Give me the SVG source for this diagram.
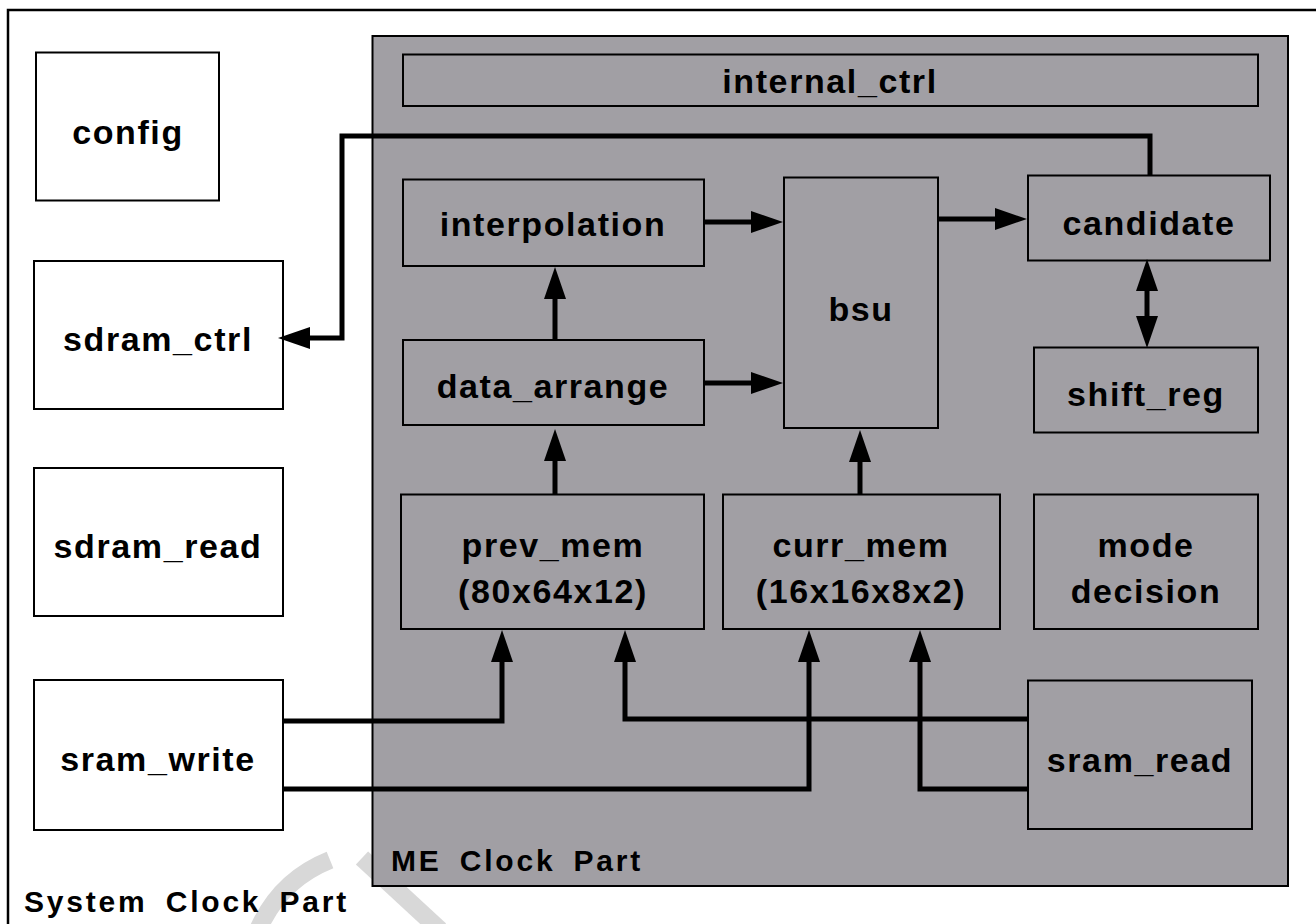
<svg xmlns="http://www.w3.org/2000/svg" width="1316" height="924" viewBox="0 0 1316 924">
<style>
.box{fill:#ffffff;stroke:#000;stroke-width:2}
.gbox{fill:#a19fa4;stroke:#000;stroke-width:2}
.lbl{font-family:"Liberation Sans",Arial,sans-serif;font-weight:bold;font-size:34px;letter-spacing:1.6px;text-anchor:middle;fill:#000}
.part{font-family:"Liberation Sans",Arial,sans-serif;font-weight:bold;font-size:30px;letter-spacing:2.8px;word-spacing:7px;fill:#000}
.wire{fill:none;stroke:#000;stroke-width:5;stroke-linejoin:miter}
</style>
<defs>
<marker id="ah" markerUnits="userSpaceOnUse" markerWidth="34" markerHeight="24" refX="0" refY="11" orient="auto-start-reverse" viewBox="0 0 34 24" overflow="visible">
<path d="M0,0 L32,11 L0,22 z" fill="#000"/>
</marker>
</defs>
<rect x="0" y="0" width="1316" height="924" fill="#ffffff"/>
<!-- watermark -->
<g fill="none" stroke="#d4d4d4" stroke-width="18" opacity="0.9">
<path d="M258,930 Q280,880 330,860"/>
<path d="M362,858 L440,930"/>
</g>
<path d="M1320,10 H8 V930" fill="none" stroke="#000" stroke-width="2.5"/>
<g id="me_clock_part">
<rect class="gbox" x="372.5" y="36" width="915.5" height="850"/>
<text class="part" x="391" y="871">ME Clock Part</text>
</g>
<text class="part" x="24" y="912">System Clock Part</text>
<g id="config"><rect class="box" x="36" y="52.5" width="183" height="148"/><text class="lbl" x="128" y="144">config</text></g>
<g id="sdram_ctrl"><rect class="box" x="34" y="261" width="249" height="148"/><text class="lbl" x="158" y="351">sdram_ctrl</text></g>
<g id="sdram_read"><rect class="box" x="34" y="468" width="249" height="148"/><text class="lbl" x="158" y="558">sdram_read</text></g>
<g id="sram_write"><rect class="box" x="34" y="680" width="249" height="150"/><text class="lbl" x="158" y="771">sram_write</text></g>
<g id="internal_ctrl"><rect class="gbox" x="403" y="54.5" width="855" height="51.5"/><text class="lbl" x="830" y="93">internal_ctrl</text></g>
<g id="interpolation"><rect class="gbox" x="403" y="179.5" width="301" height="86.5"/><text class="lbl" x="553" y="236">interpolation</text></g>
<g id="bsu"><rect class="gbox" x="784" y="177.5" width="154" height="250.5"/><text class="lbl" x="861" y="321">bsu</text></g>
<g id="candidate"><rect class="gbox" x="1028" y="175.5" width="242" height="85"/><text class="lbl" x="1149" y="235">candidate</text></g>
<g id="shift_reg"><rect class="gbox" x="1034" y="347.5" width="224" height="85"/><text class="lbl" x="1146" y="406">shift_reg</text></g>
<g id="data_arrange"><rect class="gbox" x="403" y="340" width="301" height="85"/><text class="lbl" x="553" y="398">data_arrange</text></g>
<g id="prev_mem"><rect class="gbox" x="401" y="494.5" width="303" height="134.5"/><text class="lbl" x="553" y="557">prev_mem</text><text class="lbl" x="553" y="603">(80x64x12)</text></g>
<g id="curr_mem"><rect class="gbox" x="723" y="494.5" width="277" height="134.5"/><text class="lbl" x="861" y="557">curr_mem</text><text class="lbl" x="861" y="603">(16x16x8x2)</text></g>
<g id="mode_decision"><rect class="gbox" x="1034" y="494.5" width="224" height="134.5"/><text class="lbl" x="1146" y="557">mode</text><text class="lbl" x="1146" y="603">decision</text></g>
<g id="sram_read"><rect class="gbox" x="1028" y="680.5" width="224" height="148.5"/><text class="lbl" x="1140" y="772">sram_read</text></g>
<g id="connectors">
<path class="wire" d="M1150,175 V136 H342 V338 H310" marker-end="url(#ah)"/>
<path class="wire" d="M704,222 H751" marker-end="url(#ah)"/>
<path class="wire" d="M938,219 H995" marker-end="url(#ah)"/>
<path class="wire" d="M704,383 H751" marker-end="url(#ah)"/>
<path class="wire" d="M555,340 V299" marker-end="url(#ah)"/>
<path class="wire" d="M555,494 V461" marker-end="url(#ah)"/>
<path class="wire" d="M860,494 V462" marker-end="url(#ah)"/>
<path class="wire" d="M1147,291 V316" marker-start="url(#ah)" marker-end="url(#ah)"/>
<path class="wire" d="M283,721 H502 V662" marker-end="url(#ah)"/>
<path class="wire" d="M283,789 H809 V662" marker-end="url(#ah)"/>
<path class="wire" d="M1029,719 H625 V662" marker-end="url(#ah)"/>
<path class="wire" d="M1029,789 H920 V662" marker-end="url(#ah)"/>
</g>
</svg>
